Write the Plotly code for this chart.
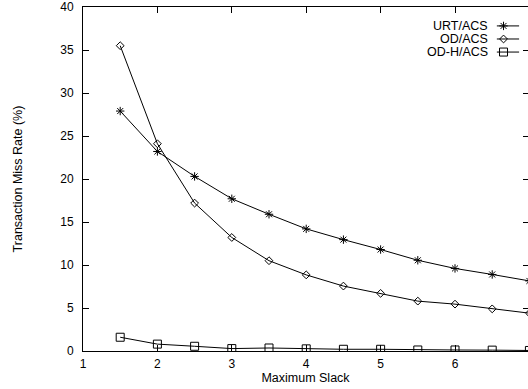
import plotly.graph_objects as go

slack = [1.5, 2, 2.5, 3, 3.5, 4, 4.5, 5, 5.5, 6, 6.5, 7]
urt_acs = [27.9, 23.2, 20.3, 17.7, 15.9, 14.2, 12.95, 11.8, 10.55, 9.6, 8.9, 8.15]
od_acs = [35.5, 24.1, 17.2, 13.2, 10.5, 8.85, 7.55, 6.7, 5.8, 5.45, 4.9, 4.4]
odh_acs = [1.6, 0.8, 0.55, 0.28, 0.35, 0.25, 0.2, 0.2, 0.12, 0.12, 0.1, 0.06]

series = [
    ("URT/ACS", urt_acs, "asterisk-open", 7),
    ("OD/ACS", od_acs, "diamond-open", 6),
    ("OD-H/ACS", odh_acs, "square-open", 8),
]

FONT = "Liberation Sans, Arial, Helvetica, sans-serif"
fig = go.Figure()

for name, vals, sym, sz in series:
    fig.add_trace(go.Scatter(
        x=slack, y=vals, mode="lines+markers", name=name,
        line=dict(color="black", width=1),
        marker=dict(symbol=sym, size=sz, color="black", line=dict(color="black", width=1)),
        cliponaxis=True, showlegend=False,
    ))

# manual gnuplot-style legend (text right, sample on right)
leg_x_text = 0.915
leg_x0, leg_x1, leg_xm = 0.930, 0.980, 0.945
leg_rows = [0.945, 0.907, 0.869]
for (name, vals, sym, sz), ry in zip(series, leg_rows):
    fig.add_annotation(x=leg_x_text, y=ry, xref="paper", yref="paper", text=name,
                       showarrow=False, xanchor="right", yanchor="middle",
                       font=dict(family=FONT, size=12.5, color="black"))
    fig.add_trace(go.Scatter(
        x=[leg_x0, leg_x1], y=[ry, ry],
        xaxis="x3", yaxis="y3", mode="lines", line=dict(color="black", width=1),
        showlegend=False, hoverinfo="skip"))
    fig.add_trace(go.Scatter(
        x=[leg_xm], y=[ry],
        xaxis="x3", yaxis="y3", mode="markers",
        marker=dict(symbol=sym, size=sz, color="black", line=dict(color="black", width=1)),
        showlegend=False, hoverinfo="skip"))

# dummy trace for right tick axis
fig.add_trace(go.Scatter(x=[1], y=[0], yaxis="y2", mode="markers",
                         marker=dict(opacity=0), showlegend=False, hoverinfo="skip"))

fig.update_layout(
    width=528, height=389,
    margin=dict(l=83, r=0, t=7, b=38),
    plot_bgcolor="white", paper_bgcolor="white",
    font=dict(family=FONT, size=12, color="black"),
    xaxis=dict(range=[1, 6.981], tickvals=[1, 2, 3, 4, 5, 6, 7],
               ticks="inside", ticklen=6, tickcolor="black",
               showline=True, linecolor="black", linewidth=1, mirror="ticks",
               showgrid=False, zeroline=False, ticklabelstandoff=2,
               tickfont=dict(family=FONT, size=12),
               title=dict(text="Maximum Slack", standoff=1,
                          font=dict(family=FONT, size=12.5))),
    yaxis=dict(range=[0, 40], tickvals=list(range(0, 41, 5)),
               ticks="inside", ticklen=6, tickcolor="black",
               showline=True, linecolor="black", linewidth=1,
               showgrid=False, zeroline=False, ticklabelstandoff=6,
               tickfont=dict(family=FONT, size=12),
               title=dict(text="Transaction Miss Rate (%)", standoff=34,
                          font=dict(family=FONT, size=12.5))),
    yaxis2=dict(overlaying="y", side="right", range=[0, 40],
                tickvals=list(range(0, 41, 5)), ticks="inside", ticklen=5,
                tickcolor="black", showticklabels=False, showline=False,
                showgrid=False, zeroline=False),
    xaxis3=dict(overlaying="x", range=[0, 1], visible=False, domain=[0, 1]),
    yaxis3=dict(overlaying="y", range=[0, 1], visible=False),
    showlegend=False,
)

fig.write_html("out.html")
